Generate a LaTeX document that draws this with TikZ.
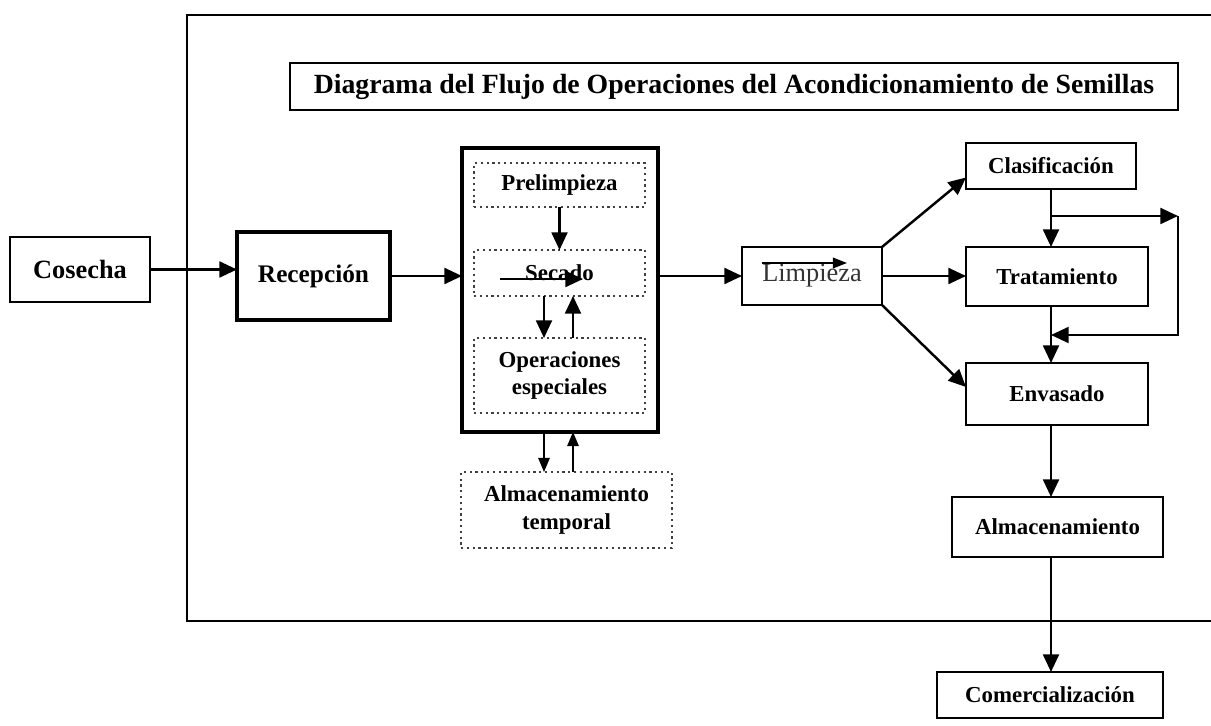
\documentclass[tikz,border=0pt]{standalone}
\usepackage{fontspec}
\setmainfont{Liberation Serif}
\usetikzlibrary{arrows.meta,calc}

\begin{document}
\begin{tikzpicture}[x=0.02cm, y=-0.02cm,
        caja/.style={draw, line width=1.3pt, inner sep=0pt, outer sep=0pt, align=center,
            font=\bfseries\fontsize{13}{15.5}\selectfont},
        punteada/.style={caja, dotted, line width=1.1pt, draw=black!75},
        tam/.style 2 args={minimum width=#1cm, minimum height=#2cm},
        flecha/.style={line width=1.4pt, -{Triangle[length=10pt, width=9pt]}},
        fina/.style={line width=0.8pt, -{Triangle[length=8pt, width=6.5pt]}}]
    \useasboundingbox (0, 0) rectangle (1211, 726);
    %\draw[lightgray, step=50] (0, 0) grid (1211, 726);

    % marco exterior
    \draw[line width=1.4pt] (1211, 15) -- (187, 15) -- (187, 621) -- (1211, 621);

    \node[caja, tam={17.76}{0.94}, font=\bfseries\fontsize{15.8}{18}\selectfont](titulo) at (734, 86.5)
        {Diagrama del Flujo de Operaciones del Acondicionamiento de Semillas};

    \node[caja, tam={2.80}{1.30}, font=\bfseries\fontsize{15}{17}\selectfont](cosecha) at (80, 269.5) {Cosecha};
    \node[caja, tam={3.06}{1.76}, line width=1.8pt, font=\bfseries\fontsize{14.4}{16}\selectfont](recepcion) at (313.5, 276) {Recepción};

    % bloque central
    \node[caja, tam={3.92}{5.68}, line width=1.8pt](proceso) at (560, 290) {};
    \node[punteada, tam={3.42}{0.88}](prelimpieza) at (559.5, 185) {Prelimpieza};
    \node[punteada, tam={3.42}{0.92}](secado) at (559.5, 273) {Secado};
    \node[punteada, tam={3.42}{1.50}](operaciones) at (559.5, 375.5) {Operaciones\\especiales};
    \node[punteada, tam={4.22}{1.52}](temporal) at (566.5, 510) {Almacenamiento\\temporal};

    \node[caja, tam={2.80}{1.16}, font=\fontsize{15}{17}\selectfont, text=black!80](limpieza) at (812, 276) {Limpieza};

    \node[caja, tam={3.40}{0.92}](clasificacion) at (1051, 166) {Clasificación};
    \node[caja, tam={3.64}{1.18}](tratamiento) at (1057, 276.5) {Tratamiento};
    \node[caja, tam={3.64}{1.24}](envasado) at (1057, 394) {Envasado};
    \node[caja, tam={4.22}{1.20}](almacenamiento) at (1057.5, 527) {Almacenamiento};
    \node[caja, tam={4.52}{0.92}](comercializacion) at (1050, 695) {Comercialización};

    \coordinate (eje) at (1051, 0);
    \coordinate (rama) at (1051, 216);
    \coordinate (retorno) at (1051, 335);
    \coordinate (lazoA) at (1178, 216);
    \coordinate (lazoB) at (1178, 335);
    \coordinate (bajaA) at (544, 0);
    \coordinate (subeA) at (573, 0);
    \coordinate (secadoI) at (500, 279);
    \coordinate (secadoD) at (583, 279);
    \coordinate (limpiezaI) at (762, 263);
    \coordinate (limpiezaD) at (847, 263);

    \draw[flecha] (cosecha.east) -- (cosecha.east -| recepcion.west);
    \draw[flecha] (recepcion.east) -- (recepcion.east -| proceso.west);
    \draw[flecha] (limpieza.west -| proceso.east) -- (limpieza.west);

    \draw[flecha] (prelimpieza.south) -- (secado.north);
    \draw[flecha] (secadoI) -- (secadoD);
    \draw[flecha] (secado.south -| bajaA) -- (operaciones.north -| bajaA);
    \draw[flecha] (operaciones.north -| subeA) -- (secado.south -| subeA);
    \draw[fina] (proceso.south -| bajaA) -- (temporal.north -| bajaA);
    \draw[fina] (temporal.north -| subeA) -- (proceso.south -| subeA);

    \draw[line width=1pt, -{Triangle[length=8pt, width=6pt]}] (limpiezaI) -- (limpiezaD);
    \draw[flecha] (limpieza.north east) -- ($(clasificacion.south west)!0.25!(clasificacion.north west)$);
    \draw[flecha] (limpieza.east) -- (limpieza.east -| tratamiento.west);
    \draw[flecha] (limpieza.south east) -- ($(envasado.west)+(0, -7)$);

    \draw[flecha] (clasificacion.south) -- (tratamiento.north -| eje);
    \draw[flecha] (rama) -- (lazoA);
    \draw[flecha] (lazoA) -- (lazoB) -- (retorno);
    \draw[flecha] (tratamiento.south -| eje) -- (envasado.north -| eje);
    \draw[flecha] (envasado.south -| eje) -- (almacenamiento.north -| eje);
    \draw[flecha] (almacenamiento.south -| eje) -- (comercializacion.north -| eje);
\end{tikzpicture}
\end{document}
